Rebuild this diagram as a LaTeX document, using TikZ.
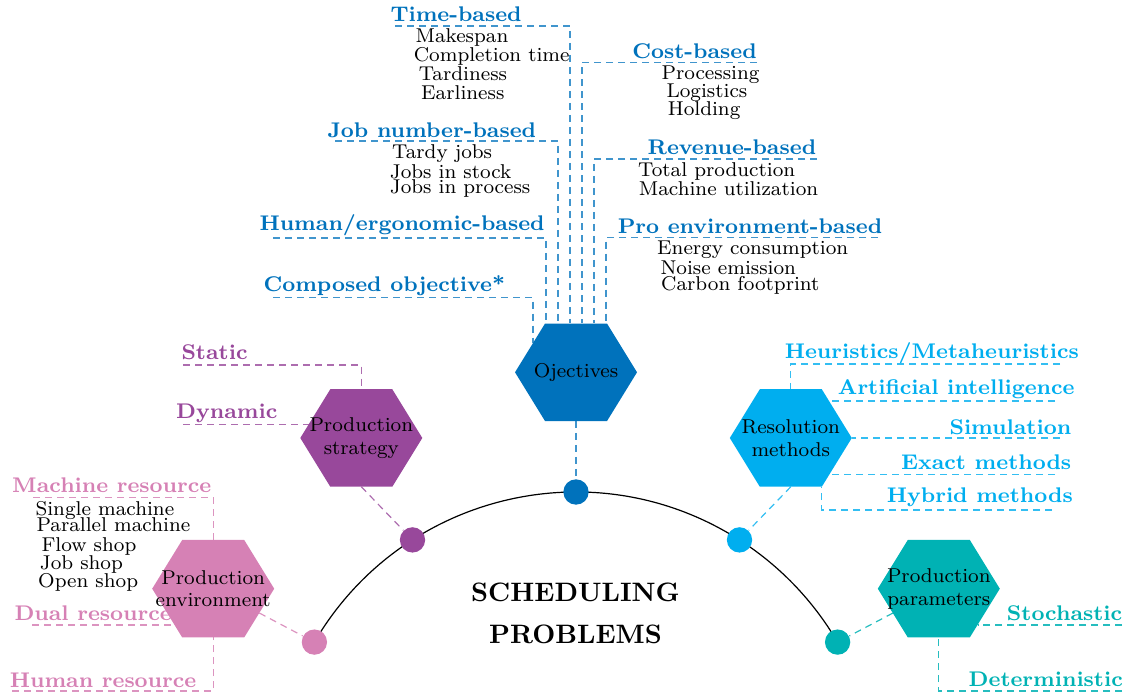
\documentclass[tikz,border=0pt]{standalone}
\usetikzlibrary{calc}
\definecolor{cobj}{RGB}{0,114,188}
\definecolor{cres}{RGB}{0,174,239}
\definecolor{cpar}{RGB}{0,178,180}
\definecolor{cstr}{RGB}{152,72,155}
\definecolor{cenv}{RGB}{214,129,181}
\tikzset{
  lab/.style={font=\fontsize{7.95}{10}\selectfont\bfseries, inner sep=0pt},
  labl/.style={lab, anchor=base west},
  labr/.style={lab, anchor=base east},
  itm/.style={font=\fontsize{7.5}{9}\selectfont, inner sep=0pt, anchor=base west},
  htxt/.style={font=\fontsize{7.5}{8.5}\selectfont, align=center, inner sep=0pt},
  dotn/.style={circle, inner sep=0pt, minimum size=9.5pt},
  conn/.style={dash pattern=on 2.6pt off 1.9pt, line width=0.45pt},
}
\newcommand\myhex[2]{\fill[#2] (#1) ++(-61,0) -- ++(30,-48.75) -- ++(62,0) -- ++(30,48.75) -- ++(-30,48.75) -- ++(-62,0) -- cycle;}
\begin{document}
\begin{tikzpicture}[x=0.375pt, y=-0.375pt]
\useasboundingbox (0,0) rectangle (1129,693);
% hexagon centres
\coordinate (cobjc) at (576,372.3);
\coordinate (cstrc) at (361.3,438);
\coordinate (cenvc) at (213.2,588.7);
\coordinate (cresc) at (790.8,438);
\coordinate (cparc) at (938.8,588.7);
% arc
\coordinate (arcstart) at (314.4,642.1);
\draw[line width=0.45pt] (arcstart) arc[start angle=149.7, end angle=30.3, radius=113.6pt];
% dots
\node[dotn, fill=cenv] (denv) at (314.4,642.1) {};
\node[dotn, fill=cstr] (dstr) at (412.5,539.9) {};
\node[dotn, fill=cobj] (dobj) at (576,492) {};
\node[dotn, fill=cres] (dres) at (739.5,539.9) {};
\node[dotn, fill=cpar] (dpar) at (837.6,642.1) {};
% connectors hexagon -> dot
\coordinate (eobj) at (576,421);
\coordinate (estr) at (361.3,486.75);
\coordinate (eres) at (790.8,486.75);
\coordinate (eenv) at (259.3,613);
\coordinate (epar) at (892.8,613.1);
\draw[conn, cobj!75] (eobj) -- (dobj);
\draw[conn, cstr!80] (estr) -- (dstr);
\draw[conn, cres!80] (eres) -- (dres);
\draw[conn, cenv!85] (eenv) -- (denv);
\draw[conn, cpar!85] (epar) -- (dpar);
% objective branches
\coordinate (o1) at (395,26);    \coordinate (o1e) at (570,323.5);
\coordinate (o2) at (335,141);   \coordinate (o2e) at (558,323.5);
\coordinate (o3) at (273,238);   \coordinate (o3e) at (546,323.5);
\coordinate (o4) at (273,297.7); \coordinate (o4e) at (533,342.6);
\coordinate (o5) at (757,62.3);  \coordinate (o5e) at (582,323.5);
\coordinate (o6) at (817,159);   \coordinate (o6e) at (594,323.5);
\coordinate (o7) at (878,237.7); \coordinate (o7e) at (606,323.5);
\foreach \i in {1,...,7} {\draw[conn, cobj!75] (o\i) -| (o\i e);}
% strategy branches
\coordinate (s1) at (183,365);   \coordinate (s1e) at (361.3,389.25);
\coordinate (s2) at (183,424.3); \coordinate (s2e) at (308.6,424.3);
\draw[conn, cstr!80] (s1) -| (s1e);
\draw[conn, cstr!80] (s2) -- (s2e);
% environment branches
\coordinate (p1) at (33,497.7);  \coordinate (p1e) at (213.2,540);
\coordinate (p2) at (32,625);    \coordinate (p2e) at (174.5,625);
\coordinate (p3) at (12,691);    \coordinate (p3e) at (213.2,637.4);
\draw[conn, cenv!85] (p1) -| (p1e);
\draw[conn, cenv!85] (p2) -- (p2e);
\draw[conn, cenv!85] (p3) -| (p3e);
% resolution branches
\coordinate (r1) at (1060,364);  \coordinate (r1e) at (790.8,389.25);
\coordinate (r2) at (1055,401);  \coordinate (r2e) at (829,401);
\coordinate (r3) at (1060,438);  \coordinate (r3e) at (851.8,438);
\coordinate (r4) at (1055,474.5);\coordinate (r4e) at (829.3,474.5);
\coordinate (r5) at (1052,510);  \coordinate (r5e) at (821.8,486.75);
\draw[conn, cres!80] (r1) -| (r1e);
\draw[conn, cres!80] (r2) -- (r2e);
\draw[conn, cres!80] (r3) -- (r3e);
\draw[conn, cres!80] (r4) -- (r4e);
\draw[conn, cres!80] (r5) -| (r5e);
% parameter branches
\coordinate (q1) at (1122,625);  \coordinate (q1e) at (977.5,625);
\coordinate (q2) at (1122,691);  \coordinate (q2e) at (938.8,637.4);
\draw[conn, cpar!85] (q1) -- (q1e);
\draw[conn, cpar!85] (q2) -| (q2e);
% hexagons
\myhex{cobjc}{cobj}
\myhex{cstrc}{cstr}
\myhex{cenvc}{cenv}
\myhex{cresc}{cres}
\myhex{cparc}{cpar}
\node[htxt] (hobj) at (cobjc) {Ojectives};
\node[htxt] (hstr) at (cstrc) {Production\\strategy};
\node[htxt] (henv) at (cenvc) {Production\\environment};
\node[htxt] (hres) at (cresc) {Resolution\\methods};
\node[htxt] (hpar) at (cparc) {Production\\parameters};
% title
\node[align=center, inner sep=0pt, font=\fontsize{10}{15.75}\selectfont\bfseries] (title) at (575.5,613) {SCHEDULING\\PROBLEMS};
% objective labels
\node[labl, cobj] (ltime) at (390,21.5) {Time-based};
\node[labl, cobj] (ljob) at (327,137.3) {Job number-based};
\node[labl, cobj] (lhum) at (259,231) {Human/ergonomic-based};
\node[labl, cobj] (lcomp) at (263,291.7) {Composed objective*};
\node[labr, cobj] (lcost) at (757.3,58.3) {Cost-based};
\node[labr, cobj] (lrev) at (816.7,155) {Revenue-based};
\node[labr, cobj] (lpro) at (882.7,233.3) {Pro environment-based};
\node[itm] (i1) at (415,42.5) {Makespan};
\node[itm] (i2) at (413.3,61.7) {Completion time};
\node[itm] (i3) at (418.3,81) {Tardiness};
\node[itm] (i4) at (420.7,99.3) {Earliness};
\node[itm] (i5) at (391.7,158.3) {Tardy jobs};
\node[itm] (i6) at (389.3,178.3) {Jobs in stock};
\node[itm] (i7) at (389.3,194) {Jobs in process};
\node[itm] (i8) at (661,80) {Processing};
\node[itm] (i9) at (666,97.7) {Logistics};
\node[itm] (i10) at (667.3,116) {Holding};
\node[itm] (i11) at (637.7,176.7) {Total production};
\node[itm] (i12) at (638.3,196) {Machine utilization};
\node[itm] (i13) at (656.7,255) {Energy consumption};
\node[itm] (i14) at (660,275) {Noise emission};
\node[itm] (i15) at (660.7,290.7) {Carbon footprint};
% strategy labels
\node[labl, cstr] (lsta) at (181,360) {Static};
\node[labl, cstr] (ldyn) at (175.7,418.3) {Dynamic};
% environment labels
\node[labl, cenv] (lmach) at (11.7,492.7) {Machine resource};
\node[labl, cenv] (ldual) at (14,620) {Dual resource};
\node[labl, cenv] (lhres) at (9.3,687.3) {Human resource};
\node[itm] (j1) at (35,515) {Single machine};
\node[itm] (j2) at (36,531.7) {Parallel machine};
\node[itm] (j3) at (41,551) {Flow shop};
\node[itm] (j4) at (39.3,569) {Job shop};
\node[itm] (j5) at (37.7,587.3) {Open shop};
% resolution labels
\node[labr, cres] (lheu) at (1079.3,358.3) {Heuristics/Metaheuristics};
\node[labr, cres] (lai) at (1075,395) {Artificial intelligence};
\node[labr, cres] (lsim) at (1071.7,434.3) {Simulation};
\node[labr, cres] (lex) at (1071.7,470) {Exact methods};
\node[labr, cres] (lhyb) at (1073.3,502.7) {Hybrid methods};
% parameter labels
\node[labr, cpar] (lsto) at (1122.7,620) {Stochastic};
\node[labr, cpar] (ldet) at (1123.3,686.7) {Deterministic};
\end{tikzpicture}
\end{document}
